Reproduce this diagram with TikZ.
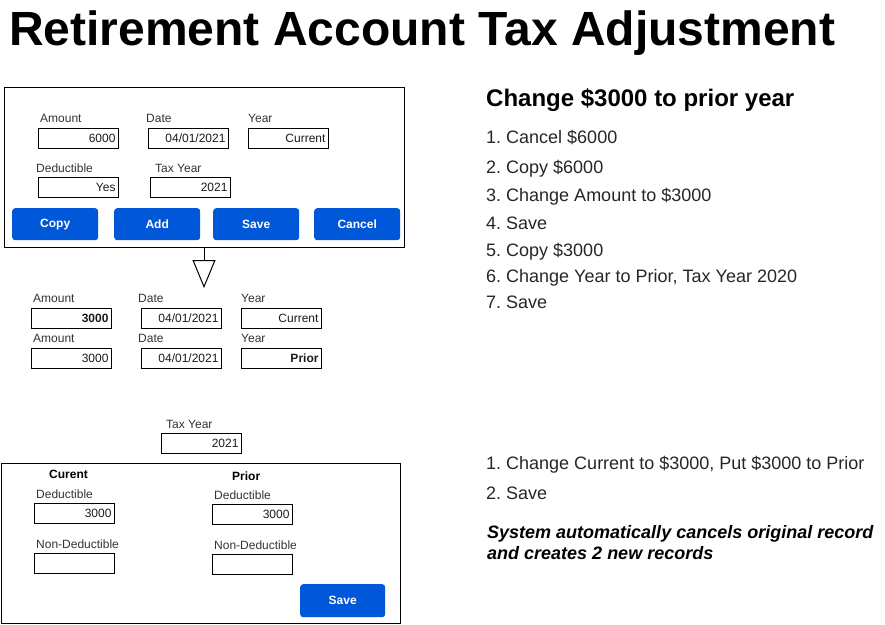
\documentclass[tikz,border=0pt]{standalone}
\usepackage{fontspec}
\setmainfont{Liberation Sans}
\usetikzlibrary{arrows.meta}
\frenchspacing
\definecolor{btnblue}{HTML}{0057D8}
\definecolor{lbl}{HTML}{333333}
\definecolor{val}{HTML}{1A1A1A}
\tikzset{
  px/.style={x=1pt,y=-1pt},
  panel/.style={draw=black,line width=1pt,anchor=north west,inner sep=0pt},
  field/.style={draw=black,line width=1pt,anchor=north west,minimum width=80pt,minimum height=20pt,
    text width=74pt,align=right,inner xsep=3pt,inner ysep=0pt,text=val,font=\fontsize{12}{14}\selectfont},
  fieldlbl/.style={anchor=base west,inner sep=0pt,text=lbl,font=\fontsize{12}{14}\selectfont},
  headlbl/.style={anchor=base west,inner sep=0pt,text=black,font=\fontsize{12}{14}\selectfont\bfseries},
  button/.style={fill=btnblue,rounded corners=3pt,anchor=north west,minimum width=86pt,minimum height=32pt,
    inner sep=0pt,text=white,font=\fontsize{12}{14}\selectfont\bfseries},
  steptext/.style={anchor=base west,inner sep=0pt,text=black!85,font=\fontsize{18}{22}\selectfont},
}
\begin{document}
\begin{tikzpicture}[px]
\useasboundingbox (0,0) rectangle (885,624);

% title
\node[anchor=base west,inner sep=0pt,font=\fontsize{48}{56}\selectfont\bfseries] (title) at (9,45) {Retirement Account Tax Adjustment};

% ---- entry form ----
\node[panel,minimum width=400pt,minimum height=160pt] (form) at (4,87) {};
\node[fieldlbl] (lAmt) at (40,122) {Amount};
\node[fieldlbl] (lDate) at (146,122) {Date};
\node[fieldlbl] (lYear) at (248,122) {Year};
\node[field] (fAmt) at (38,128) {6000};
\node[field] (fDate) at (148,128) {04/01/2021};
\node[field] (fYear) at (248,128) {Current};
\node[fieldlbl] (lDed) at (36,172) {Deductible};
\node[fieldlbl] (lTax) at (155,172) {Tax Year};
\node[field] (fDed) at (38,177) {Yes};
\node[field] (fTax) at (150,177) {2021};
\node[button] (bCopy) at (12,208) {Copy};
\node[button] (bAdd) at (114,208) {Add};
\node[button] (bSave) at (213,208) {Save};
\node[button] (bCancel) at (314,208) {Cancel};

% arrow down to the resulting records
\coordinate (tip) at (204,288);
\draw[line width=1pt,-{Triangle[open,length=28pt,width=23pt]}] (form.south -| tip) -- (tip);

% ---- resulting records ----
\node[fieldlbl] (r1lAmt) at (33,302) {Amount};
\node[fieldlbl] (r1lDate) at (138,302) {Date};
\node[fieldlbl] (r1lYear) at (241,302) {Year};
\node[field] (r1Amt) at (31,308) {\bfseries 3000};
\node[field] (r1Date) at (141,308) {04/01/2021};
\node[field] (r1Year) at (241,308) {Current};
\node[fieldlbl] (r2lAmt) at (33,342) {Amount};
\node[fieldlbl] (r2lDate) at (138,342) {Date};
\node[fieldlbl] (r2lYear) at (241,342) {Year};
\node[field] (r2Amt) at (31,348) {3000};
\node[field] (r2Date) at (141,348) {04/01/2021};
\node[field] (r2Year) at (241,348) {\bfseries Prior};

% ---- split form ----
\node[fieldlbl] (sTaxl) at (166,428) {Tax Year};
\node[field] (sTax) at (161,433) {2021};
\node[panel,minimum width=399pt,minimum height=160pt] (split) at (1,463) {};
\node[headlbl] (hCur) at (49,478) {Curent};
\node[headlbl] (hPri) at (232,480) {Prior};
\node[fieldlbl] (cDedl) at (36,498) {Deductible};
\node[field] (cDed) at (34,503) {3000};
\node[fieldlbl] (cNonl) at (36,548) {Non-Deductible};
\node[field] (cNon) at (34,553) {};
\node[fieldlbl] (pDedl) at (214,499) {Deductible};
\node[field] (pDed) at (212,504) {3000};
\node[fieldlbl] (pNonl) at (214,549) {Non-Deductible};
\node[field] (pNon) at (212,554) {};
\node[button,minimum width=85pt,minimum height=33pt] (sSave) at (300,584) {Save};

% ---- notes ----
\node[anchor=base west,inner sep=0pt,font=\fontsize{24}{28}\selectfont\bfseries] (head) at (486,106) {Change \$3000 to prior year};
\node[steptext] (s1) at (486,143) {1. Cancel \$6000};
\node[steptext] (s2) at (486,173) {2. Copy \$6000};
\node[steptext] (s3) at (486,201) {3. Change Amount to \$3000};
\node[steptext] (s4) at (486,229) {4. Save};
\node[steptext] (s5) at (486,256) {5. Copy \$3000};
\node[steptext] (s6) at (486,282) {6. Change Year to Prior, Tax Year 2020};
\node[steptext] (s7) at (486,308) {7. Save};

\node[steptext] (t1) at (486,469) {1. Change Current to \$3000, Put \$3000 to Prior};
\node[steptext] (t2) at (486,499) {2. Save};
\node[anchor=north west,inner sep=0pt,align=left,font=\fontsize{18}{21}\selectfont\bfseries\itshape] (note) at (487,525)
  {System automatically cancels original record\\and creates 2 new records};
\end{tikzpicture}
\end{document}
